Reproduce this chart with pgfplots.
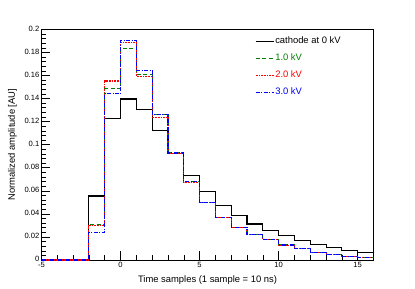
\documentclass[border=0pt]{standalone}
\usepackage{pgfplots}
\pgfplotsset{compat=1.18}
\usepackage{fontspec}
\setmainfont{Liberation Sans}
\definecolor{rgreen}{RGB}{0,128,0}
\definecolor{rred}{RGB}{255,0,0}
\definecolor{rblue}{RGB}{0,0,255}
\begin{document}
\begin{tikzpicture}[x=1pt,y=1pt]
\useasboundingbox (0,0) rectangle (415,289);
\begin{axis}[
  at={(41.5pt,29pt)}, anchor=south west,
  scale only axis, width=332pt, height=230.7pt,
  xmin=-5, xmax=16, ymin=0, ymax=0.2,
  xtick={-5,0,5,10,15}, minor x tick num=4,
  ytick={0,0.02,0.04,0.06,0.08,0.1,0.12,0.14,0.16,0.18,0.2}, minor y tick num=4,
  tick pos=left, tick align=inside,
  /pgf/number format/assume math mode=true,
  /pgf/number format/fixed,
  /pgf/number format/precision=2,
  scaled y ticks=false,
  ticklabel style={font=\fontsize{7.6}{8}\selectfont},
  yticklabel style={inner sep=1pt, xshift=-1pt, yshift=0.8pt},
  xticklabel style={inner sep=1pt, yshift=-1pt},
  x tick style={black, line width=0.5pt},
  y tick style={black, line width=0.5pt},
  major tick length=8.5pt, minor tick length=4.5pt,
  axis line style={black, line width=0.6pt},
  xlabel={Time samples (1 sample = 10 ns)},
  ylabel={Normalized amplitude [AU]},
  label style={font=\fontsize{9.4}{11}\selectfont},
  xlabel style={at={(rel axis cs:0.5,-0.0867)}, anchor=center},
  ylabel style={at={(rel axis cs:-0.0873,0.5)}, anchor=center},
  clip=false,
  legend style={at={(rel axis cs:0.643,0.972)}, anchor=north west, draw=none, fill=none,
    font=\fontsize{9.4}{11}\selectfont, inner sep=0pt, row sep=6pt,
    nodes={inner sep=1pt, text height=7pt, text depth=2pt}},
  legend cell align=left,
  legend image code/.code={\draw[#1] (0pt,0pt) -- (18pt,0pt);},
]
\addplot[const plot mark left, black, line width=1.1pt] coordinates {
(-5,0)(-4,0)(-3,0)(-2,0.0555)(-1,0.123)(0,0.1396)(1,0.1307)(2,0.1119)(3,0.0920)
(4,0.0731)(5,0.0592)(6,0.0471)(7,0.0384)(8,0.0312)(9,0.0257)(10,0.0211)
(11,0.0168)(12,0.0133)(13,0.0107)(14,0.0084)(15,0.0067)(16,0.0067)};
\addlegendentry{cathode at 0 kV}
\addplot[const plot mark left, rgreen, line width=1.1pt, dash pattern=on 4pt off 2.5pt] coordinates {
(-5,0)(-4,0)(-3,0)(-2,0.031)(-1,0.1486)(0,0.1830)(1,0.1610)(2,0.1264)(3,0.0928)
(4,0.0679)(5,0.0500)(6,0.0370)(7,0.0284)(8,0.0220)(9,0.0176)(10,0.0130)
(11,0.0098)(12,0.0067)(13,0.0046)(14,0.0032)(15,0.0020)(16,0.0020)};
\addlegendentry{\textcolor{rgreen}{1.0 kV}}
\addplot[const plot mark left, rred, line width=1.1pt, dash pattern=on 0.8pt off 0.8pt] coordinates {
(-5,0)(-4,0)(-3,0)(-2,0.0298)(-1,0.1552)(0,0.1888)(1,0.1590)(2,0.1234)(3,0.0925)
(4,0.0675)(5,0.0497)(6,0.0368)(7,0.0283)(8,0.0219)(9,0.0175)(10,0.0129)
(11,0.0097)(12,0.0066)(13,0.0046)(14,0.0032)(15,0.0020)(16,0.0020)};
\addlegendentry{\textcolor{rred}{2.0 kV}}
\addplot[const plot mark left, rblue, line width=1.1pt, dash pattern=on 4pt off 1.5pt on 1pt off 1.5pt] coordinates {
(-5,0)(-4,0)(-3,0)(-2,0.024)(-1,0.1440)(0,0.1902)(1,0.1642)(2,0.1264)(3,0.0928)
(4,0.0679)(5,0.0500)(6,0.0370)(7,0.0284)(8,0.0220)(9,0.0176)(10,0.0130)
(11,0.0098)(12,0.0067)(13,0.0046)(14,0.0032)(15,0.0020)(16,0.0020)};
\addlegendentry{\textcolor{rblue}{3.0 kV}}
\end{axis}
\end{tikzpicture}
\end{document}
